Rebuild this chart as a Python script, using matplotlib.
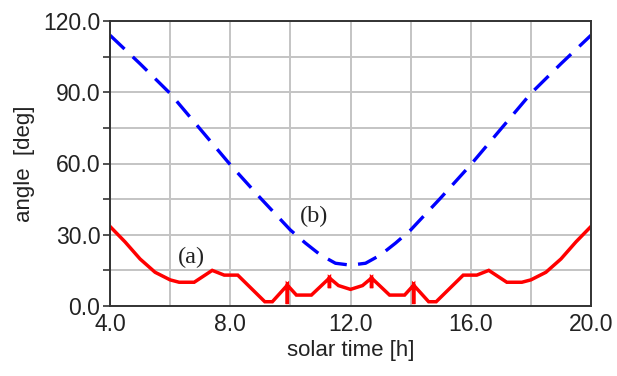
import matplotlib
matplotlib.use("Agg")
import matplotlib.pyplot as plt
from matplotlib.ticker import MultipleLocator, FormatStrFormatter

# curve (b): dashed blue
time_b = [4.0, 5.0, 6.0, 7.0, 8.0, 9.0, 10.0, 10.5, 11.0, 11.5, 12.0,
          12.5, 13.0, 13.5, 14.0, 15.0, 16.0, 17.0, 18.0, 19.0, 20.0]
angle_b = [114.0, 102.0, 89.5, 74.5, 59.5, 45.5, 32.0, 26.5, 21.5, 18.0, 17.2,
           18.0, 21.5, 26.5, 32.0, 45.5, 59.5, 74.5, 89.5, 102.0, 114.0]

# curve (a): solid red (with spikes)
time_a = [4.0, 4.5, 5.0, 5.5, 6.0, 6.3, 6.8, 7.4, 7.8, 8.25, 9.15, 9.4,
          9.9, 9.9, 9.9, 10.2, 10.7, 11.3, 11.3, 11.3, 11.6, 12.0,
          12.4, 12.7, 12.7, 12.7, 13.3, 13.8, 14.1, 14.1, 14.1, 14.6, 14.85,
          15.75, 16.2, 16.6, 17.2, 17.7, 18.0, 18.5, 19.0, 19.5, 20.0]
angle_a = [33.5, 27.0, 19.8, 14.2, 11.0, 10.0, 10.0, 15.0, 13.0, 13.0, 1.8, 1.8,
           8.8, 0.8, 8.8, 4.6, 4.6, 11.8, 7.5, 11.8, 8.6, 7.0,
           8.6, 11.8, 7.5, 11.8, 4.6, 4.6, 8.8, 0.8, 8.8, 1.8, 1.8,
           13.0, 13.0, 15.0, 10.0, 10.0, 11.0, 14.2, 19.8, 27.0, 33.5]

plt.rcParams['font.family'] = ['Liberation Sans', 'DejaVu Sans']

fig = plt.figure(figsize=(6.17, 3.76), dpi=100)
ax = fig.add_axes([110/617, 1 - 306/376, (591-110)/617, (306-21)/376])

ax.plot(time_b, angle_b, color='#0000ff', lw=2.4, ls=(0, (6.0, 3.4)),
        solid_capstyle='butt', dash_capstyle='butt')
ax.plot(time_a, angle_a, color='#ff0000', lw=2.5, solid_joinstyle='miter')

ax.set_xlim(4, 20)
ax.set_ylim(0, 120)
ax.xaxis.set_major_locator(MultipleLocator(4))
ax.xaxis.set_minor_locator(MultipleLocator(2))
ax.yaxis.set_major_locator(MultipleLocator(30))
ax.yaxis.set_minor_locator(MultipleLocator(15))
ax.xaxis.set_major_formatter(FormatStrFormatter('%.1f'))
ax.yaxis.set_major_formatter(FormatStrFormatter('%.1f'))
ax.grid(True, which='both', color='#c4c4c4', lw=1.4)
ax.set_axisbelow(True)

ax.tick_params(axis='x', which='both', length=0, pad=5, labelsize=16.5, labelcolor='#222222')
ax.tick_params(axis='y', which='both', length=5, width=1.2, direction='out',
               pad=2, labelsize=16.5, labelcolor='#222222', color='#333333')
for s in ax.spines.values():
    s.set_color('#333333')
    s.set_linewidth(1.4)

ax.set_xlabel('solar time [h]', fontsize=16, color='#222222', labelpad=3)
ax.set_ylabel('angle  [deg]', fontsize=16, color='#222222', labelpad=6)

ax.text(6.7, 20.3, '(a)', family='Liberation Serif', fontsize=17.5, color='#222222',
        ha='center', va='center')
ax.text(10.8, 37.5, '(b)', family='Liberation Serif', fontsize=17.5, color='#222222',
        ha='center', va='center')

fig.savefig('out.png', dpi=100)
